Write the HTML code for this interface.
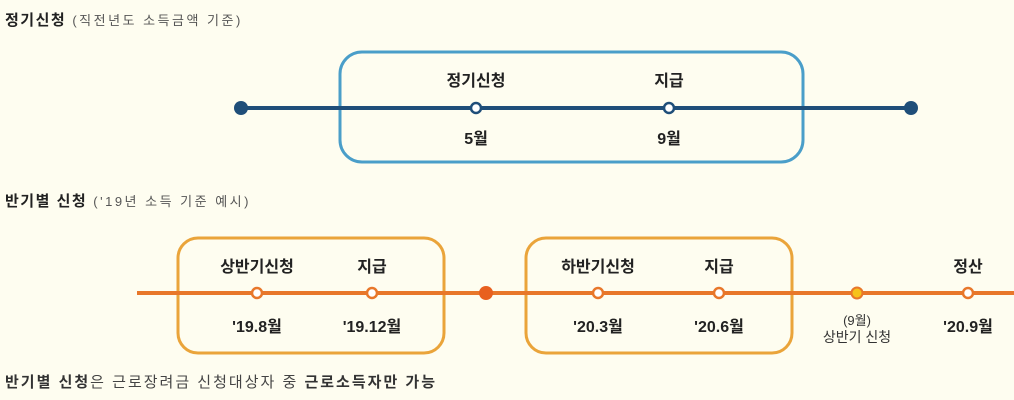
<!DOCTYPE html>
<html><head><meta charset="utf-8"><style>
html,body{margin:0;padding:0;background:#fefdf0;}
svg{display:block;}
text{font-family:"Liberation Sans","Noto Sans CJK KR",sans-serif;fill:#333;}
.b{font-weight:bold;font-size:16px;text-anchor:middle;fill:#222;}
</style></head><body>
<svg width="1014" height="400" viewBox="0 0 1014 400" xmlns="http://www.w3.org/2000/svg">
<rect width="1014" height="400" fill="#fefdf0"/>
<text x="5" y="25" font-size="15" letter-spacing="1.5"><tspan font-weight="bold" fill="#222">정기신청</tspan><tspan font-size="13" fill="#555" letter-spacing="2.5"> (직전년도 소득금액 기준)</tspan></text>
<rect x="340" y="52" width="463" height="110" rx="22" fill="none" stroke="#4a9ec9" stroke-width="3"/>
<line x1="241" y1="108" x2="911" y2="108" stroke="#1f4e79" stroke-width="4"/>
<circle cx="241" cy="108" r="7" fill="#1f4e79"/>
<circle cx="911" cy="108" r="7" fill="#1f4e79"/>
<circle cx="476" cy="108" r="5" fill="#fff" stroke="#1f4e79" stroke-width="2.5"/>
<circle cx="669" cy="108" r="5" fill="#fff" stroke="#1f4e79" stroke-width="2.5"/>
<text class="b" x="476" y="86">정기신청</text>
<text class="b" x="669" y="86">지급</text>
<text class="b" x="476" y="144">5월</text>
<text class="b" x="669" y="144">9월</text>

<text x="5" y="206" font-size="15" letter-spacing="1.5"><tspan font-weight="bold" fill="#222">반기별 신청</tspan><tspan font-size="13" fill="#555" letter-spacing="2.5"> ('19년 소득 기준 예시)</tspan></text>
<rect x="178" y="238" width="266" height="115" rx="20" fill="none" stroke="#eaa43a" stroke-width="3"/>
<rect x="526" y="238" width="266" height="115" rx="20" fill="none" stroke="#eaa43a" stroke-width="3"/>
<line x1="137" y1="293" x2="1014" y2="293" stroke="#e8772a" stroke-width="4"/>
<circle cx="486" cy="293" r="7" fill="#e8601f"/>
<g fill="#fff" stroke="#e8772a" stroke-width="2.5">
<circle cx="257" cy="293" r="5"/><circle cx="372" cy="293" r="5"/>
<circle cx="598" cy="293" r="5"/><circle cx="719" cy="293" r="5"/>
<circle cx="968" cy="293" r="5"/>
</g>
<circle cx="857" cy="293" r="5.5" fill="#f6c21a" stroke="#e8772a" stroke-width="2"/>
<text class="b" x="257" y="272">상반기신청</text>
<text class="b" x="372" y="272">지급</text>
<text class="b" x="598" y="272">하반기신청</text>
<text class="b" x="719" y="272">지급</text>
<text class="b" x="968" y="272">정산</text>
<text class="b" x="257" y="332">'19.8월</text>
<text class="b" x="372" y="332">'19.12월</text>
<text class="b" x="598" y="332">'20.3월</text>
<text class="b" x="719" y="332">'20.6월</text>
<text class="b" x="968" y="332">'20.9월</text>
<text x="857" y="325" font-size="13" text-anchor="middle" fill="#444">(9월)</text>
<text x="857" y="342" font-size="14" text-anchor="middle" fill="#444">상반기 신청</text>
<text x="5" y="387" font-size="15" font-weight="bold" fill="#222" letter-spacing="2">반기별 신청<tspan font-weight="normal" fill="#444">은 근로장려금 신청대상자 중 </tspan>근로소득자만 가능</text>
</svg>
</body></html>
